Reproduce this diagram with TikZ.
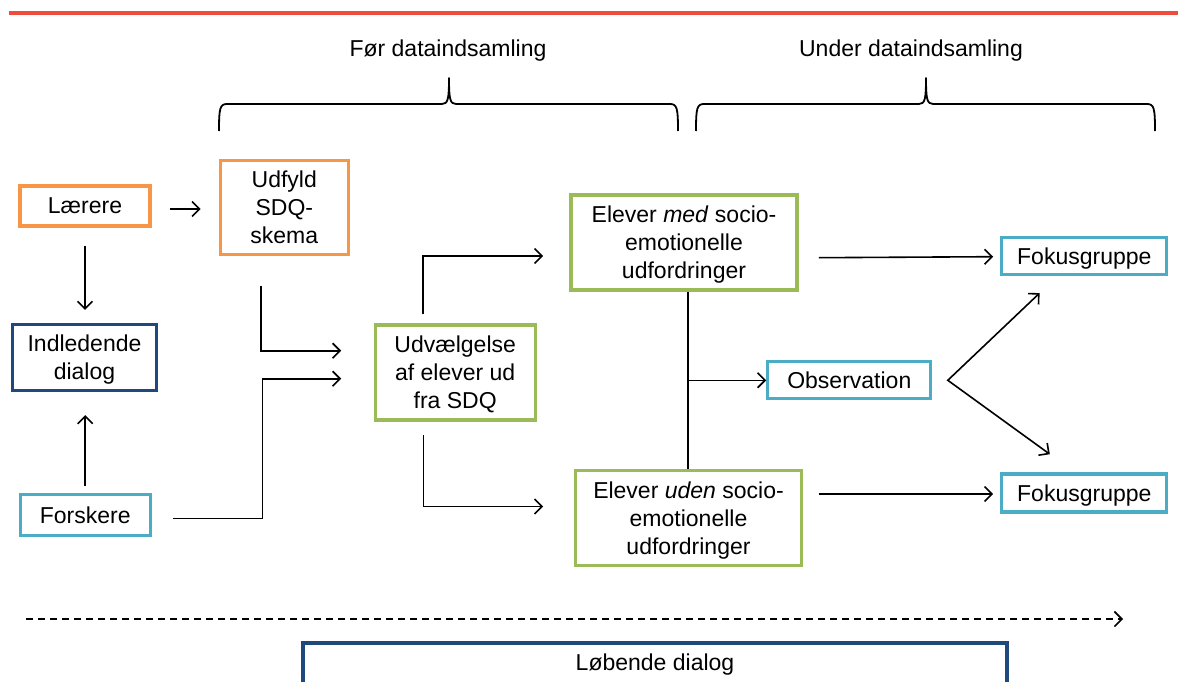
\documentclass[tikz,border=0pt]{standalone}
\usepackage{fontspec}
\setmainfont{Liberation Sans}
\usetikzlibrary{arrows.meta,calc}
\definecolor{corange}{RGB}{247,150,70}
\definecolor{cblue}{RGB}{31,73,125}
\definecolor{cgreen}{RGB}{155,187,89}
\definecolor{ccyan}{RGB}{75,172,198}
\definecolor{cred}{RGB}{238,76,60}
\newcommand\zdp[1]{\raisebox{0pt}[\height][0pt]{#1}}
\begin{document}
\begin{tikzpicture}[x=1pt,y=-1pt,
  font=\fontsize{23}{28}\selectfont,
  box/.style={draw, line width=3.2pt, align=center, inner sep=0pt},
  arr/.style={line width=1.6pt, -{Straight Barb[length=7.5pt,width=15pt]}},
  bracepath/.style={line width=1.8pt, line join=round}]
\useasboundingbox (0,0) rectangle (1178,682);
\clip (0,0) rectangle (1178,682);
% top rule
\draw[cred, line width=4pt] (9,13) -- (1178,13);
% titles
\node[anchor=base] (t1) at (448,57) {Før dataindsamling};
\node[anchor=base] (t2) at (911,57) {Under dataindsamling};
% braces
\draw[bracepath] (219,131) .. controls (219,108) and (220,104) .. (227,104) -- (442,104)
  .. controls (448,104) and (449,99) .. (449,78) .. controls (449,99) and (450,104) .. (456,104)
  -- (670,104) .. controls (677,104) and (678,108) .. (678,131);
\draw[bracepath] (696,131) .. controls (696,108) and (697,104) .. (704,104) -- (919,104)
  .. controls (925,104) and (926,99) .. (926,78) .. controls (926,99) and (927,104) .. (933,104)
  -- (1147,104) .. controls (1154,104) and (1155,108) .. (1155,131);
% nodes
\node[box, draw=corange, minimum width=130pt, minimum height=40pt] (lae) at (85,206) {Lærere};
\node[box, draw=corange, minimum width=128pt, minimum height=94pt] (udf) at (284.3,207.5) {Udfyld\\SDQ-\\skema};
\node[box, draw=cblue, minimum width=144pt, minimum height=66pt] (ind) at (84.5,357.5) {Indledende\\\zdp{dialog}};
\node[box, draw=ccyan, minimum width=130pt, minimum height=41pt] (fors) at (85.2,515) {Forskere};
\node[box, draw=cgreen, minimum width=160pt, minimum height=95pt] (udv) at (455.2,372.4) {Udvælgelse\\af elever ud\\\zdp{fra SDQ}};
\node[box, draw=cgreen, minimum width=226pt, minimum height=95pt] (med) at (684,242.5) {Elever \textit{med} socio-\\emotionelle\\\zdp{udfordringer}};
\node[box, draw=cgreen, minimum width=226pt, minimum height=95pt] (uden) at (688.5,518) {Elever \textit{uden} socio-\\emotionelle\\\zdp{udfordringer}};
\node[box, draw=ccyan, minimum width=163pt, minimum height=37pt] (obs) at (849.3,380.3) {Observation};
\node[box, draw=ccyan, minimum width=165pt, minimum height=37pt] (fok1) at (1084.3,255.8) {\zdp{Fokusgruppe}};
\node[box, draw=ccyan, minimum width=165pt, minimum height=38pt] (fok2) at (1084.3,493) {\zdp{Fokusgruppe}};
% connectors
\draw[arr, shorten <=18pt, shorten >=18pt] ([yshift=-3pt]lae.east) -- ([yshift=-3pt]lae.east -| udf.west);
\draw[arr, shorten <=18pt, shorten >=13pt] (lae.south) -- (lae.south |- ind.north);
\draw[arr, shorten <=7pt, shorten >=23pt] (fors.north) -- (fors.north |- ind.south);
\draw[arr] ($(udf.south)+(-23.3,29.4)$) |- ($(udv.west)+(-32.4,-21.7)$);
\draw[arr] ($(fors.east)+(21,3.5)$) -- ++(89.5,0) |- ($(udv.west)+(-32.4,6.3)$);
\draw[arr] ($(udv.north)+(-32.2,-9)$) |- ($(med.west)+(-26.2,13.5)$);
\draw[arr] ($(udv.south)+(-31.6,13.3)$) |- ($(uden.west)+(-30.7,-11.5)$);
\draw[arr] ($(med.east)+(20.2,15.2)$) -- ($(fok1.west)+(-7,0.9)$);
\draw[arr] ($(uden.east)+(15.7,-24)$) -- ($(fok2.west)+(-7,1)$);
\draw[line width=1.6pt] ($(med.south)+(3.7,0)$) -- ($(uden.north)+(-0.8,0)$);
\coordinate (br) at (687.7,380.3);
\draw[arr] (br) -- (br -| obs.west);
\coordinate (vx) at ($(obs.east)+(15.4,0)$);
\draw[line width=1.6pt, line join=miter, {Straight Barb[length=7.5pt,width=15pt]}-{Straight Barb[length=7.5pt,width=15pt]}]
  ($(fok1.south)+(-44.7,17.2)$) -- (vx) -- ($(fok2.north)+(-34.5,-18.2)$);
% dashed timeline
\coordinate (ds) at (26,619);
\coordinate (de) at (1123,619);
\draw[arr, dash pattern=on 7pt off 5pt] (ds) -- (de);
% bottom dialog box
\node[anchor=base] (lob) at (655,670) {Løbende dialog};
\draw[cblue, line width=3.2pt] ($(lob.base)+(-352,25)$) |- ($(lob.base)+(352,-27)$) -- ++(0,52);
\end{tikzpicture}
\end{document}
